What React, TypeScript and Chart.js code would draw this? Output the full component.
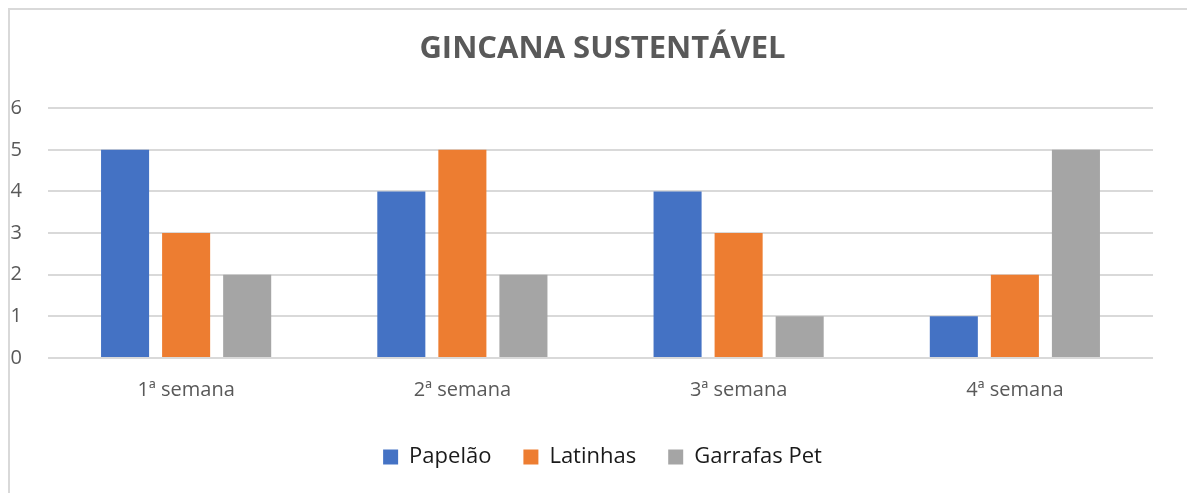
import React, { useEffect, useRef } from "react";
import { Chart, registerables } from "chart.js";

Chart.register(...registerables);

const categories = ["1ª semana", "2ª semana", "3ª semana", "4ª semana"];
const papelao = [5, 4, 4, 1];
const latinhas = [3, 5, 3, 2];
const garrafasPet = [2, 2, 1, 5];
const yTicks = [0, 1, 2, 3, 4, 5, 6];

const FONT = "'Open Sans', 'Noto Sans', sans-serif";

export default function App() {
  const ref = useRef<HTMLCanvasElement | null>(null);

  useEffect(() => {
    document.body.style.overflow = "hidden";
    const canvas = ref.current;
    if (!canvas) return;
    const chart = new Chart(canvas, {
      type: "bar",
      data: {
        labels: categories,
        datasets: [
          { label: "Papelão", data: papelao, backgroundColor: "#4472C4" },
          { label: "Latinhas", data: latinhas, backgroundColor: "#ED7D31" },
          { label: "Garrafas Pet", data: garrafasPet, backgroundColor: "#A5A5A5" },
        ],
      },
      options: {
        responsive: false,
        animation: false,
        layout: { padding: { left: 0, right: 0, top: 0, bottom: 15 } },
        datasets: {
          bar: { categoryPercentage: 0.663, barPercentage: 0.787 },
        },
        plugins: {
          title: {
            display: true,
            text: "GINCANA SUSTENTÁVEL",
            color: "#595959",
            font: { family: FONT, size: 31, weight: "bold" },
            padding: { top: 21, bottom: 40 },
          },
          legend: {
            position: "bottom",
            labels: {
              color: "#1a1a1a",
              font: { family: FONT, size: 22 },
              boxWidth: 15,
              boxHeight: 15,
              padding: 32,
            },
          },
          tooltip: { enabled: false },
        },
        scales: {
          x: {
            grid: { display: false, drawTicks: false },
            border: { display: false },
            ticks: { color: "#595959", font: { family: FONT, size: 20 }, padding: 20 },
            afterFit: (scale: any) => {
              scale.height = 56;
            },
          },
          y: {
            min: 0,
            max: 6,
            afterBuildTicks: (scale: any) => {
              scale.ticks = yTicks.map((v) => ({ value: v }));
            },
            grid: { color: "#d9d9d9", lineWidth: 2, drawTicks: false },
            border: { display: false },
            ticks: { color: "#595959", font: { family: FONT, size: 20 }, padding: 26 },
            afterFit: (scale: any) => {
              scale.width = 38;
            },
          },
          yRight: {
            position: "right",
            min: 0,
            max: 6,
            grid: { display: false, drawTicks: false },
            border: { display: false },
            ticks: { display: false },
            afterFit: (scale: any) => {
              scale.width = 42;
            },
          },
        },
      },
    });
    return () => chart.destroy();
  }, []);

  return (
    <div
      style={{
        boxSizing: "border-box",
        width: "calc(100vw - 8px)",
        height: 485,
        borderTop: "2px solid #d9d9d9",
        borderLeft: "2px solid #d9d9d9",
        background: "#fff",
      }}
    >
      <canvas ref={ref} width={1185} height={483} style={{ display: "block" }} />
    </div>
  );
}
